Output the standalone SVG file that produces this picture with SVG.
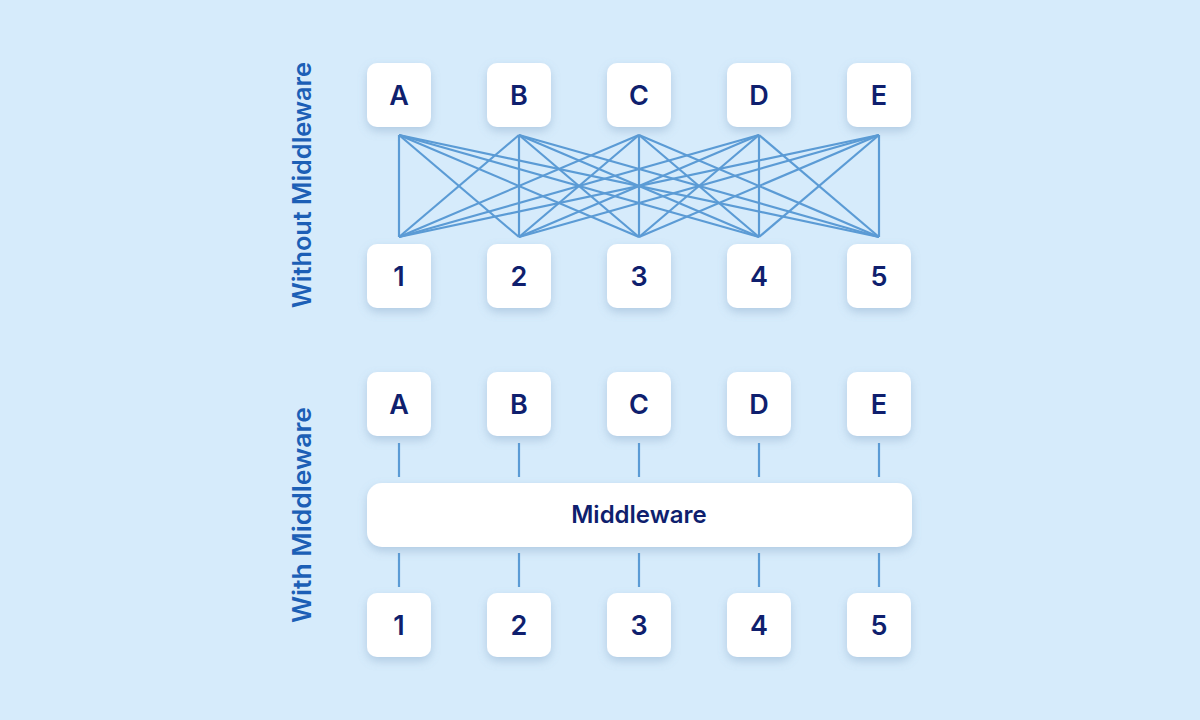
<svg xmlns="http://www.w3.org/2000/svg" width="1200" height="720" viewBox="0 0 1200 720">
<defs>
<filter id="sh" x="-30%" y="-30%" width="160%" height="170%">
<feDropShadow dx="0" dy="4" stdDeviation="5" flood-color="#6a8fb5" flood-opacity="0.35"/>
</filter>
<style>
.box{fill:#ffffff;filter:url(#sh)}
.lbl{font-family:Inter,"Noto Sans",sans-serif;font-weight:600;font-size:27px;fill:#0f1f6e;text-anchor:middle}
.side{font-family:Inter,"Noto Sans",sans-serif;font-weight:600;font-size:25px;fill:#1c5fb6;text-anchor:middle}
.con line{stroke:#5b9bd5;stroke-width:2.2}
</style>
</defs>
<rect width="1200" height="720" fill="#d6ebfb"/>
<text class="side" transform="translate(311,185) rotate(-90)" textLength="246" lengthAdjust="spacingAndGlyphs">Without Middleware</text>
<text class="side" transform="translate(311,515) rotate(-90)" textLength="216" lengthAdjust="spacingAndGlyphs">With Middleware</text>
<g id="connectors" class="con">
<line x1="399" y1="135" x2="399" y2="237"/><line x1="399" y1="135" x2="519" y2="237"/><line x1="399" y1="135" x2="639" y2="237"/><line x1="399" y1="135" x2="759" y2="237"/><line x1="399" y1="135" x2="879" y2="237"/>
<line x1="519" y1="135" x2="399" y2="237"/><line x1="519" y1="135" x2="519" y2="237"/><line x1="519" y1="135" x2="639" y2="237"/><line x1="519" y1="135" x2="759" y2="237"/><line x1="519" y1="135" x2="879" y2="237"/>
<line x1="639" y1="135" x2="399" y2="237"/><line x1="639" y1="135" x2="519" y2="237"/><line x1="639" y1="135" x2="639" y2="237"/><line x1="639" y1="135" x2="759" y2="237"/><line x1="639" y1="135" x2="879" y2="237"/>
<line x1="759" y1="135" x2="399" y2="237"/><line x1="759" y1="135" x2="519" y2="237"/><line x1="759" y1="135" x2="639" y2="237"/><line x1="759" y1="135" x2="759" y2="237"/><line x1="759" y1="135" x2="879" y2="237"/>
<line x1="879" y1="135" x2="399" y2="237"/><line x1="879" y1="135" x2="519" y2="237"/><line x1="879" y1="135" x2="639" y2="237"/><line x1="879" y1="135" x2="759" y2="237"/><line x1="879" y1="135" x2="879" y2="237"/>
<line x1="399" y1="443" x2="399" y2="477"/><line x1="519" y1="443" x2="519" y2="477"/><line x1="639" y1="443" x2="639" y2="477"/><line x1="759" y1="443" x2="759" y2="477"/><line x1="879" y1="443" x2="879" y2="477"/>
<line x1="399" y1="553" x2="399" y2="587"/><line x1="519" y1="553" x2="519" y2="587"/><line x1="639" y1="553" x2="639" y2="587"/><line x1="759" y1="553" x2="759" y2="587"/><line x1="879" y1="553" x2="879" y2="587"/>
</g>
<g id="top-A"><rect class="box" x="367" y="63" width="64" height="64" rx="10"/><text class="lbl" x="399" y="105">A</text></g>
<g id="top-B"><rect class="box" x="487" y="63" width="64" height="64" rx="10"/><text class="lbl" x="519" y="105">B</text></g>
<g id="top-C"><rect class="box" x="607" y="63" width="64" height="64" rx="10"/><text class="lbl" x="639" y="105">C</text></g>
<g id="top-D"><rect class="box" x="727" y="63" width="64" height="64" rx="10"/><text class="lbl" x="759" y="105">D</text></g>
<g id="top-E"><rect class="box" x="847" y="63" width="64" height="64" rx="10"/><text class="lbl" x="879" y="105">E</text></g>
<g id="top-1"><rect class="box" x="367" y="244" width="64" height="64" rx="10"/><text class="lbl" x="399" y="286">1</text></g>
<g id="top-2"><rect class="box" x="487" y="244" width="64" height="64" rx="10"/><text class="lbl" x="519" y="286">2</text></g>
<g id="top-3"><rect class="box" x="607" y="244" width="64" height="64" rx="10"/><text class="lbl" x="639" y="286">3</text></g>
<g id="top-4"><rect class="box" x="727" y="244" width="64" height="64" rx="10"/><text class="lbl" x="759" y="286">4</text></g>
<g id="top-5"><rect class="box" x="847" y="244" width="64" height="64" rx="10"/><text class="lbl" x="879" y="286">5</text></g>
<g id="mid-A"><rect class="box" x="367" y="372" width="64" height="64" rx="10"/><text class="lbl" x="399" y="414">A</text></g>
<g id="mid-B"><rect class="box" x="487" y="372" width="64" height="64" rx="10"/><text class="lbl" x="519" y="414">B</text></g>
<g id="mid-C"><rect class="box" x="607" y="372" width="64" height="64" rx="10"/><text class="lbl" x="639" y="414">C</text></g>
<g id="mid-D"><rect class="box" x="727" y="372" width="64" height="64" rx="10"/><text class="lbl" x="759" y="414">D</text></g>
<g id="mid-E"><rect class="box" x="847" y="372" width="64" height="64" rx="10"/><text class="lbl" x="879" y="414">E</text></g>
<g id="middleware"><rect class="box" x="367" y="483" width="545" height="64" rx="15"/><text class="lbl" x="639" y="523" style="font-size:24px">Middleware</text></g>
<g id="bot-1"><rect class="box" x="367" y="593" width="64" height="64" rx="10"/><text class="lbl" x="399" y="635">1</text></g>
<g id="bot-2"><rect class="box" x="487" y="593" width="64" height="64" rx="10"/><text class="lbl" x="519" y="635">2</text></g>
<g id="bot-3"><rect class="box" x="607" y="593" width="64" height="64" rx="10"/><text class="lbl" x="639" y="635">3</text></g>
<g id="bot-4"><rect class="box" x="727" y="593" width="64" height="64" rx="10"/><text class="lbl" x="759" y="635">4</text></g>
<g id="bot-5"><rect class="box" x="847" y="593" width="64" height="64" rx="10"/><text class="lbl" x="879" y="635">5</text></g>
</svg>
